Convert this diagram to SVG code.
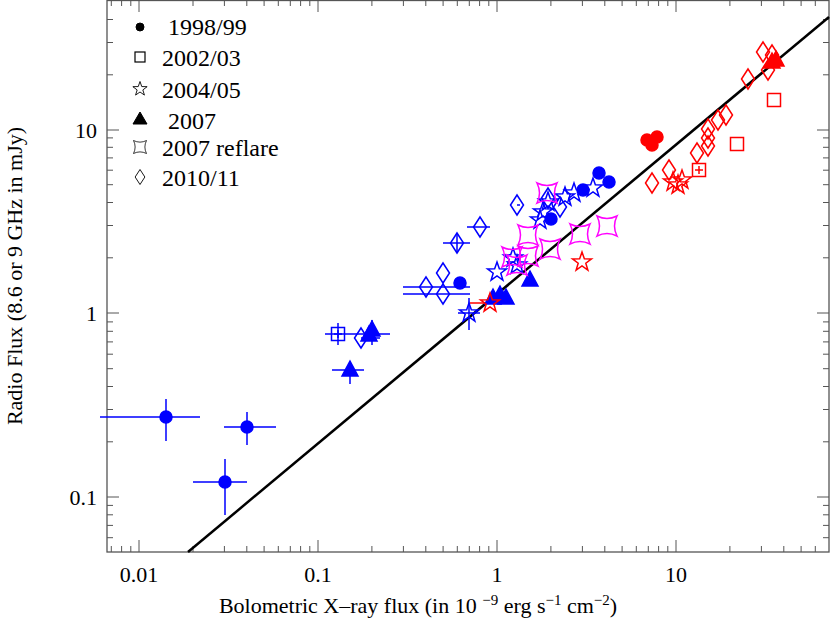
<svg xmlns="http://www.w3.org/2000/svg" width="830" height="619" viewBox="0 0 830 619" font-family="'Liberation Serif', 'DejaVu Serif', serif">
<style>
text{font-family:"Liberation Serif","DejaVu Serif",serif;fill:#000}
.tl{font-size:22px}
.lg{font-size:24px}
.ax{fill:none;stroke:#555;stroke-width:1.3}
.tk{stroke:#555;stroke-width:1}
.b{stroke:#0000ff;fill:none;stroke-width:1.5}
.bf{fill:#0000ff;stroke:#0000ff;stroke-width:1.5}
.r{stroke:#ff0000;fill:none;stroke-width:1.5}
.rf{fill:#ff0000;stroke:#ff0000;stroke-width:1.5}
.m{stroke:#ff00ff;fill:none;stroke-width:1.5}
.k{stroke:#000;fill:none;stroke-width:1.2}
.kf{fill:#000;stroke:#000}
</style>
<defs>
<circle id="c" r="6"/>
<rect id="s" x="-6.5" y="-6.5" width="13" height="13"/>
<path id="st" d="M0,-10 L2.35,-3.24 L9.51,-3.09 L3.8,1.24 L5.88,8.09 L0,4 L-5.88,8.09 L-3.8,1.24 L-9.51,-3.09 L-2.35,-3.24Z"/>
<path id="t" d="M0,-9 L8,6 L-8,6Z"/>
<path id="q" d="M-10,-10 Q0,-5 10,-10 Q5,0 10,10 Q0,5 -10,10 Q-5,0 -10,-10Z"/>
<path id="d" d="M0,-10 L6.5,0 L0,10 L-6.5,0Z"/>
<path id="e" d="M-4,0 H4 M0,-4 V4"/>
</defs>
<rect width="830" height="619" fill="#fff"/>
<g id="axes">
<rect class="ax" x="107" y="0.5" width="722" height="551.5"/>
<path class="tk" d="M139,552v-12M318,552v-12M497,552v-12M676,552v-12M139,0v12M318,0v12M497,0v12M676,0v12
M111.3,552v-6M121.6,552v-6M130.8,552v-6M193,552v-6M224.4,552v-6M246.8,552v-6M264.1,552v-6M278.3,552v-6M290.3,552v-6M300.6,552v-6M309.8,552v-6M371.9,552v-6M403.4,552v-6M425.8,552v-6M443.1,552v-6M457.3,552v-6M469.3,552v-6M479.6,552v-6M488.8,552v-6M550.9,552v-6M582.4,552v-6M604.8,552v-6M622.1,552v-6M636.3,552v-6M648.3,552v-6M658.6,552v-6M667.8,552v-6M729.9,552v-6M761.4,552v-6M783.8,552v-6M801.1,552v-6M815.3,552v-6
M111.3,0v6M121.6,0v6M130.8,0v6M193,0v6M224.4,0v6M246.8,0v6M264.1,0v6M278.3,0v6M290.3,0v6M300.6,0v6M309.8,0v6M371.9,0v6M403.4,0v6M425.8,0v6M443.1,0v6M457.3,0v6M469.3,0v6M479.6,0v6M488.8,0v6M550.9,0v6M582.4,0v6M604.8,0v6M622.1,0v6M636.3,0v6M648.3,0v6M658.6,0v6M667.8,0v6M729.9,0v6M761.4,0v6M783.8,0v6M801.1,0v6M815.3,0v6
M107,497h12M107,313h12M107,130h12M829,497h-12M829,313h-12M829,130h-12
M107,537.7h6M107,525.4h6M107,514.8h6M107,505.4h6M107,441.8h6M107,409.5h6M107,386.5h6M107,368.7h6M107,354.2h6M107,341.9h6M107,331.3h6M107,321.9h6M107,257.8h6M107,225.5h6M107,202.5h6M107,184.7h6M107,170.2h6M107,157.9h6M107,147.3h6M107,137.9h6M107,74.8h6M107,42.5h6M107,19.5h6
M829,537.7h-6M829,525.4h-6M829,514.8h-6M829,505.4h-6M829,441.8h-6M829,409.5h-6M829,386.5h-6M829,368.7h-6M829,354.2h-6M829,341.9h-6M829,331.3h-6M829,321.9h-6M829,257.8h-6M829,225.5h-6M829,202.5h-6M829,184.7h-6M829,170.2h-6M829,157.9h-6M829,147.3h-6M829,137.9h-6M829,74.8h-6M829,42.5h-6M829,19.5h-6"/>
<text class="tl" x="139" y="582" text-anchor="middle">0.01</text>
<text class="tl" x="318" y="582" text-anchor="middle">0.1</text>
<text class="tl" x="497" y="582" text-anchor="middle">1</text>
<text class="tl" x="676" y="582" text-anchor="middle">10</text>
<text class="tl" x="97" y="505" text-anchor="end">0.1</text>
<text class="tl" x="97" y="321" text-anchor="end">1</text>
<text class="tl" x="97" y="138" text-anchor="end">10</text>
<text class="tl" x="418" y="613" text-anchor="middle">Bolometric X–ray flux (in 10 <tspan font-size="15" dy="-8">−9</tspan><tspan dy="8"> erg s</tspan><tspan font-size="15" dy="-8">−1</tspan><tspan dy="8"> cm</tspan><tspan font-size="15" dy="-8">−2</tspan><tspan dy="8">)</tspan></text>
<text class="tl" transform="translate(22,276) rotate(-90)" text-anchor="middle">Radio Flux (8.6 or 9 GHz in mJy)</text>
</g>
<g id="legend">
<circle class="kf" cx="140" cy="27" r="4"/>
<text class="lg" x="168" y="35">1998/99</text>
<rect class="k" x="135" y="52" width="10" height="10"/>
<text class="lg" x="162" y="66">2002/03</text>
<use href="#st" class="k" transform="translate(140,89) scale(0.75)"/>
<text class="lg" x="162" y="98">2004/05</text>
<path class="kf" d="M140,112 L147,124 L133,124Z"/>
<text class="lg" x="168" y="129">2007</text>
<use href="#q" class="k" transform="translate(140,147) scale(0.65)"/>
<text class="lg" x="162" y="156">2007 reflare</text>
<use href="#d" class="k" transform="translate(140,177) scale(0.75)"/>
<text class="lg" x="162" y="186">2010/11</text>
</g>
<g id="fit"><path d="M188,552 L829,17" stroke="#000" stroke-width="2.5" fill="none"/></g>
<g id="connectors">
<path class="b" d="M100,417H200M166,399V441M224,427H276M247,412V445M193,482H247M225,459V515M332,370H364M350,362V384M355,334H390M372,320V345M325,334H355M338,323V345M443,243H470M457,233V253M467,227H490M403,287H470M403,294H470M361,338H380M458,313H480M469,298V330M517,205H520"/>
<path class="r" d="M470,303H490"/>
</g>
<g id="data">
<g class="bf">
<use href="#c" x="166" y="417"/><use href="#c" x="247" y="427"/><use href="#c" x="225" y="482"/>
<use href="#c" x="460" y="283"/><use href="#c" x="551" y="219"/><use href="#c" x="583" y="190"/><use href="#c" x="599" y="173"/><use href="#c" x="609" y="182"/>
<use href="#t" x="350" y="370"/><use href="#t" x="372" y="330"/><use href="#t" x="369" y="335"/>
<use href="#t" x="493" y="298"/><use href="#t" x="500" y="295"/><use href="#t" x="506" y="298"/><use href="#t" x="530" y="280"/>
</g>
<g class="b">
<use href="#s" x="338" y="334"/><use href="#e" x="338" y="334"/>
<use href="#d" x="457" y="243"/><use href="#d" x="480" y="227"/><use href="#d" x="443" y="273"/><use href="#d" x="426" y="287"/><use href="#d" x="443" y="294"/><use href="#d" x="361" y="338"/><use href="#d" x="517" y="205"/><use href="#d" x="548" y="198"/><use href="#d" x="560" y="207"/>
<use href="#st" x="469" y="313"/><use href="#st" x="497" y="272"/><use href="#st" x="513" y="258"/><use href="#st" x="517" y="265"/><use href="#st" x="540" y="220"/><use href="#st" x="543" y="212"/><use href="#st" x="548" y="202"/><use href="#st" x="565" y="197"/><use href="#st" x="574" y="193"/><use href="#st" x="593" y="188"/>
</g>
<g class="m">
<use href="#q" x="547" y="193"/><use href="#q" x="528" y="235"/><use href="#q" x="528" y="256"/><use href="#q" x="550" y="249"/><use href="#q" x="512" y="257"/><use href="#q" x="517" y="265"/><use href="#q" x="580" y="234"/><use href="#q" x="607" y="226"/>
</g>
<g class="rf">
<use href="#c" x="647" y="140"/><use href="#c" x="652" y="145"/><use href="#c" x="657" y="137"/>
<use href="#t" x="772" y="62"/><use href="#t" x="776" y="60"/>
</g>
<g class="r">
<use href="#st" x="582" y="262"/><use href="#st" x="490" y="303"/>
<use href="#st" x="673" y="182"/><use href="#st" x="678" y="185"/><use href="#st" x="682" y="180"/>
<use href="#d" x="652" y="183"/><use href="#d" x="669" y="170"/><use href="#d" x="697" y="153"/><use href="#d" x="708" y="146"/><use href="#d" x="708" y="138"/><use href="#d" x="708" y="129"/><use href="#d" x="718" y="120"/><use href="#d" x="726" y="115"/><use href="#d" x="748" y="79"/><use href="#d" x="763" y="52"/><use href="#d" x="768" y="70"/><use href="#d" x="772" y="55"/>
<use href="#s" x="699" y="170"/><use href="#e" x="699" y="170"/><use href="#s" x="737" y="144"/><use href="#s" x="774" y="100"/>
</g>
</g>
</svg>
